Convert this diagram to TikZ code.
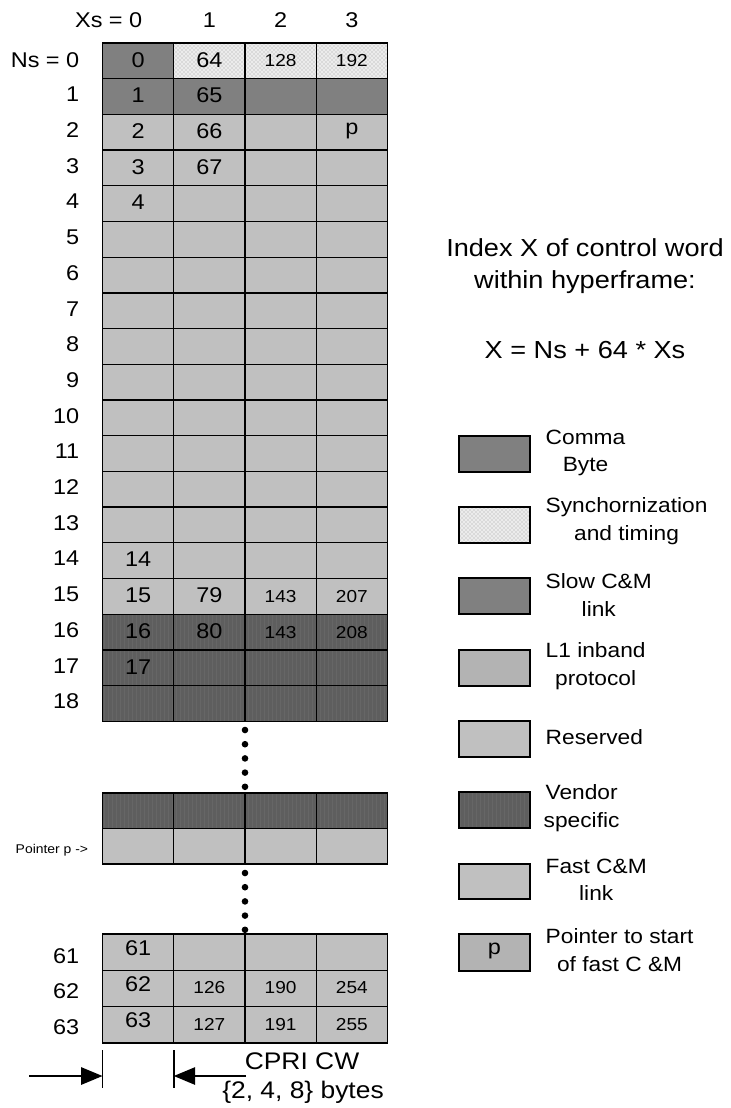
\documentclass[tikz,border=0pt]{standalone}
\usepackage{fontspec}
\setmainfont{Liberation Sans}[FakeStretch=1.1]
\usetikzlibrary{arrows.meta,patterns}

\definecolor{commagray}{HTML}{808080}
\definecolor{cellgray}{HTML}{C0C0C0}
\definecolor{inbandgray}{HTML}{B3B3B3}
\definecolor{vendorgray}{HTML}{5E5E5E}
\definecolor{syncgray}{HTML}{ECECEC}

\tikzset{
  cell/.style={draw=black, line width=1pt},
  comma/.style={cell, fill=commagray},
  slow/.style={cell, fill=commagray},
  light/.style={cell, fill=cellgray},
  sync/.style={cell, preaction={fill=syncgray}, pattern=crosshatch dots, pattern color=gray!75},
  vendor/.style={cell, preaction={fill=vendorgray}, pattern=vertical lines, pattern color=black!60},
  legbox/.style={draw=black, line width=1.4pt},
  big/.style={font=\fontsize{16}{19}\selectfont},
  small/.style={font=\fontsize{13}{15}\selectfont},
  title/.style={font=\fontsize{18.5}{24.5}\selectfont, align=center},
  legtext/.style={anchor=west, align=center, font=\fontsize{15.5}{20.5}\selectfont},
  tick/.style={line width=1.2pt},
  cwarrow/.style={line width=1.2pt, -{Triangle[length=16pt,width=13pt]}},
}

\newcommand{\cx}{102.5}  % left edge of the table
\newcommand{\cw}{71.25}  % column width
\newcommand{\rh}{35.7}   % row height

\begin{document}
\begin{tikzpicture}[x=0.75pt,y=-0.75pt]
  \useasboundingbox (0,0) rectangle (731,1108);

  % Column headers
  \node[big, anchor=east] (xs0) at (147,20) {Xs = 0};
  \foreach \c in {1,2,3}
    \node[big] (xs\c) at ({\cx+(\c+0.5)*\cw},20) {\c};

  % Rows Ns = 0 .. 18
  \draw[comma] (\cx,43) rectangle ++(\cw,\rh);
  \foreach \c in {1,2,3}
    \draw[sync] ({\cx+\c*\cw},43) rectangle ++(\cw,\rh);
  \foreach \c in {0,...,3}
    \draw[slow] ({\cx+\c*\cw},{43+\rh}) rectangle ++(\cw,\rh);
  \foreach \r in {2,...,15}
    \foreach \c in {0,...,3}
      \draw[light] ({\cx+\c*\cw},{43+\r*\rh}) rectangle ++(\cw,\rh);
  \foreach \r in {16,17,18}
    \foreach \c in {0,...,3}
      \draw[vendor] ({\cx+\c*\cw},{43+\r*\rh}) rectangle ++(\cw,\rh);

  % Row labels
  \node[big, anchor=east] (ns0) at (84,{42+0.5*\rh}) {Ns = 0};
  \foreach \r in {1,...,18}
    \node[big, anchor=east] (ns\r) at (84,{41+(\r+0.5)*\rh}) {\r};

  % Cell contents
  \foreach \c/\r/\lab in {0/0/0,0/1/1,0/2/2,0/3/3,0/4/4,0/14/14,0/15/15,0/16/16,0/17/17,
                          1/0/64,1/1/65,1/2/66,1/3/67,1/15/79,1/16/80,3/2/p}
    \node[big] (t\c-\r) at ({\cx+(\c+0.5)*\cw},{42+(\r+0.5)*\rh}) {\lab};
  \foreach \c/\r/\lab in {2/0/128,3/0/192,2/15/143,3/15/207,2/16/143,3/16/208}
    \node[small] (t\c-\r) at ({\cx+(\c+0.5)*\cw},{43+(\r+0.5)*\rh}) {\lab};

  % Continuation dots
  \foreach \y in {730,744.2,758.4,772.6,786.8}
    \fill (245,\y) circle (3.3);
  \foreach \y in {873,887.2,901.4,915.6,929.8}
    \fill (245,\y) circle (3.3);

  % Vendor row and pointer row
  \foreach \c in {0,...,3}{
    \draw[vendor] ({\cx+\c*\cw},793) rectangle ++(\cw,35.5);
    \draw[light] ({\cx+\c*\cw},828.5) rectangle ++(\cw,35.5);
  }
  \node[anchor=west, font=\fontsize{9.5}{11}\selectfont] (ptr) at (11,850) {Pointer p ->};

  % Rows Ns = 61 .. 63
  \foreach \r in {0,1,2}
    \foreach \c in {0,...,3}
      \draw[light] ({\cx+\c*\cw},{934+\r*36.3}) rectangle ++(\cw,36.3);
  \foreach \r/\lab in {0/61,1/62,2/63}{
    \node[big, anchor=east] (ns\lab) at (84,{956+\r*35.5}) {\lab};
    \node[big] (t0-\lab) at ({\cx+0.5*\cw},{948+\r*36.3}) {\lab};
  }
  \foreach \c/\r/\lab in {1/1/126,2/1/190,3/1/254,1/2/127,2/2/191,3/2/255}
    \node[small] (t\c-\lab) at ({\cx+(\c+0.5)*\cw},{951.5+\r*36.3}) {\lab};

  % CPRI CW width
  \coordinate (lt) at (\cx,1050);
  \coordinate (lb) at (\cx,1088);
  \coordinate (rt) at ({\cx+\cw},1050);
  \coordinate (rb) at ({\cx+\cw},1088);
  \coordinate (la) at (\cx,1076);
  \coordinate (ra) at ({\cx+\cw},1076);
  \coordinate (ls) at (29,1076);
  \coordinate (rs) at (246,1076);
  \draw[tick] (lt) -- (lb);
  \draw[tick] (rt) -- (rb);
  \draw[cwarrow] (ls) -- (la);
  \draw[cwarrow] (rs) -- (ra);
  \node[font=\fontsize{18}{20}\selectfont] (cw) at (302,1061) {CPRI CW};
  \node[font=\fontsize{18}{20}\selectfont] (cwb) at (303,1092) {\{2, 4, 8\} bytes};

  % Title
  \node[title] (idx) at (585,266) {Index X of control word\\within hyperframe:};
  \node[title] (eq) at (585,350) {X = Ns + 64 * Xs};

  % Legend
  \draw[legbox, fill=commagray] (459,436) rectangle (530,472);
  \node[legtext] (lcomma) at (541,453) {Comma\\Byte};
  \draw[legbox, preaction={fill=syncgray}, pattern=crosshatch dots, pattern color=gray!75] (459,507) rectangle (530,543);
  \node[legtext] (lsync) at (541,521) {Synchornization\\and timing};
  \draw[legbox, fill=commagray] (459,578) rectangle (530,614);
  \node[legtext] (lslow) at (541,595) {Slow C\&M\\link};
  \draw[legbox, fill=inbandgray] (459,650) rectangle (530,686);
  \node[legtext] (linband) at (541,666) {L1 inband\\protocol};
  \draw[legbox, fill=cellgray] (459,721) rectangle (530,757);
  \node[legtext] (lres) at (541,737) {Reserved};
  \draw[legbox, preaction={fill=vendorgray}, pattern=vertical lines, pattern color=black!60] (459,792) rectangle (530,828);
  \node[legtext] (lvendor) at (539,808) {Vendor\\specific};
  \draw[legbox, fill=cellgray] (459,864) rectangle (530,899);
  \node[legtext] (lfast) at (541,880) {Fast C\&M\\link};
  \draw[legbox, fill=inbandgray] (459,934) rectangle (530,971);
  \node[big] (lp) at (494.5,951) {p};
  \node[legtext] (lptr) at (541,950) {Pointer to start\\of fast C \&M};
\end{tikzpicture}
\end{document}
